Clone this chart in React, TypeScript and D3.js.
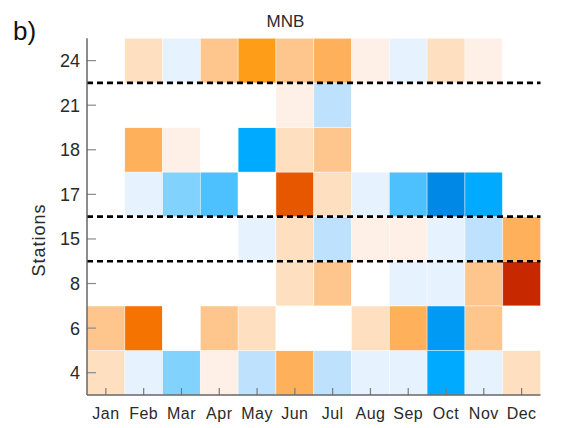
import React from "react";
import * as d3 from "d3";

const months = ["Jan", "Feb", "Mar", "Apr", "May", "Jun", "Jul", "Aug", "Sep", "Oct", "Nov", "Dec"];
const stations = ["4", "6", "8", "15", "17", "18", "21", "24"];

// MNB values per station (Jan..Dec)
const st4 = [0.07, -0.03, -0.12, 0.03, -0.07, 0.17, -0.07, -0.03, -0.03, -0.22, -0.03, 0.07];
const st6 = [0.12, 0.27, 0, 0.12, 0.07, 0, 0, 0.07, 0.17, -0.28, 0.12, 0];
const st8 = [0, 0, 0, 0, 0, 0.07, 0.12, 0, -0.03, -0.03, 0.12, 0.4];
const st15 = [0, 0, 0, 0, -0.03, 0.07, -0.07, 0.03, 0.03, -0.03, -0.07, 0.17];
const st17 = [0, -0.03, -0.12, -0.17, 0, 0.32, 0.07, -0.03, -0.17, -0.33, -0.22, 0];
const st18 = [0, 0.17, 0.03, 0, -0.22, 0.07, 0.12, 0, 0, 0, 0, 0];
const st21 = [0, 0, 0, 0, 0, 0.03, -0.07, 0, 0, 0, 0, 0];
const st24 = [0, 0.07, -0.03, 0.12, 0.22, 0.12, 0.17, 0.03, -0.03, 0.07, 0.03, 0];

const stationValues = [st4, st6, st8, st15, st17, st18, st21, st24];

const thresholds = [-0.3, -0.25, -0.2, -0.15, -0.1, -0.05, -0.02, 0.02, 0.05, 0.1, 0.15, 0.2, 0.25, 0.3, 0.35];
const palette = [
  "#0088E6", "#009AF5", "#00AAFE", "#4DC0FE", "#82D2FE", "#BEE2FE", "#E6F2FE",
  "#FFFFFF",
  "#FEF0E6", "#FEDFC0", "#FEC68C", "#FEB05A", "#FE9D18", "#F57300", "#E65700", "#C82800",
];

// dashed separators sit between these station pairs (lower, upper)
const separators = [["21", "24"], ["15", "17"], ["8", "15"]];

const W = 571;
const H = 428;
const M = { left: 87, right: 540.5, top: 38.3, bottom: 395 };

export default function App() {
  const x = d3.scaleBand<string>().domain(months).range([M.left, M.right]);
  const y = d3.scaleBand<string>().domain(stations).range([M.bottom, M.top]);
  const color = d3.scaleThreshold<number, string>().domain(thresholds).range(palette);

  const cells: { m: string; s: string; v: number }[] = [];
  stations.forEach((s, i) => {
    months.forEach((m, j) => {
      cells.push({ m, s, v: stationValues[i][j] });
    });
  });

  const font = "'Liberation Sans', Arial, sans-serif";
  const textFill = "#2a2a2a";

  return (
    <svg width={W} height={H} style={{ position: "absolute", left: 0, top: 0 }} fontFamily={font}>
      <rect x={0} y={0} width={W} height={H} fill="#fff" />
      {cells.map((c, i) => (
        <rect
          key={i}
          x={x(c.m)}
          y={y(c.s)}
          width={x.bandwidth()}
          height={y.bandwidth()}
          fill={color(c.v)}
          stroke="#ffffff"
          strokeOpacity={0.5}
          strokeWidth={0.8}
        />
      ))}
      {/* y ticks */}
      {stations.map((s) => {
        const cy = (y(s) as number) + y.bandwidth() / 2;
        return (
          <g key={s}>
            <line x1={M.left} x2={M.left + 9} y1={cy} y2={cy} stroke="#8a8a8a" strokeWidth={1.2} />
            <text x={M.left - 7} y={cy} dy="0.36em" textAnchor="end" fontSize={18} fill={textFill}>
              {s}
            </text>
          </g>
        );
      })}
      {/* x ticks */}
      {months.map((m) => {
        const cx = (x(m) as number) + x.bandwidth() / 2;
        return (
          <g key={m}>
            <line x1={cx} x2={cx} y1={M.bottom} y2={M.bottom - 7} stroke="#7a7a7a" strokeWidth={1.2} />
            <text x={cx} y={M.bottom + 24} textAnchor="middle" fontSize={16} fill={textFill} letterSpacing={0.5}>
              {m}
            </text>
          </g>
        );
      })}
      {/* dashed separators */}
      {separators.map(([lo, hi], i) => {
        const yy = ((y(lo) as number) + ((y(hi) as number) + y.bandwidth())) / 2;
        return (
          <line
            key={i}
            x1={M.left}
            x2={M.right}
            y1={yy}
            y2={yy}
            stroke="#000"
            strokeWidth={2.6}
            strokeDasharray="6 4"
          />
        );
      })}
      {/* axes */}
      <line x1={M.left} x2={M.left} y1={M.top} y2={M.bottom} stroke="#666" strokeWidth={1.5} />
      <line x1={M.left} x2={M.right} y1={M.bottom} y2={M.bottom} stroke="#666" strokeWidth={1.5} />
      {/* labels */}
      <text x={285.5} y={26.5} textAnchor="middle" fontSize={17} fill={textFill}>
        MNB
      </text>
      <text x={13} y={40} fontSize={26} fill="#111">
        b)
      </text>
      <text
        transform={`translate(45, 240) rotate(-90)`}
        textAnchor="middle"
        fontSize={18}
        fill={textFill}
        letterSpacing={1}
      >
        Stations
      </text>
    </svg>
  );
}
